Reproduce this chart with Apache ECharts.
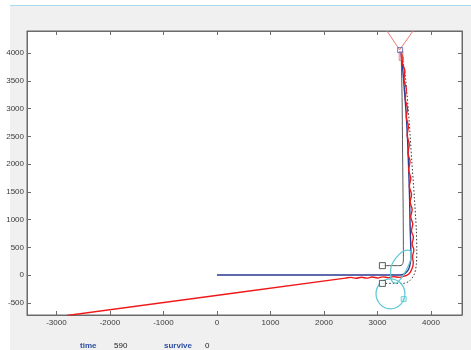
<!DOCTYPE html>
<html>
<head>
<meta charset="utf-8">
<script src="https://cdn.jsdelivr.net/npm/echarts@6/dist/echarts.min.js"></script>
<style>
  html, body { margin: 0; padding: 0; background: #ffffff; }
  #chart { width: 471px; height: 350px; }
</style>
</head>
<body>
<div id="chart"></div>
<script>
// Axis ranges and tick labels
const xRange = [-3550, 4580];
const yRange = [-720, 4400];
const xTicks = [-3000, -2000, -1000, 0, 1000, 2000, 3000, 4000];
const yTicks = [-500, 0, 500, 1000, 1500, 2000, 2500, 3000, 3500, 4000];

// Actual flown track (red)
const actualTrack = [
  [-2800, -729], [2400, -55], [2500, -42], [2600, -58], [2700, -40], [2800, -56],
  [2900, -36], [3000, -52], [3100, -32], [3200, -48], [3300, -28], [3400, -42],
  [3500, -20], [3580, 15], [3640, 100], [3670, 220], [3655, 330], [3680, 451],
  [3648, 560], [3672, 680], [3635, 800], [3660, 920], [3622, 1050], [3648, 1180],
  [3610, 1320], [3636, 1450], [3596, 1600], [3622, 1740], [3584, 1900], [3608, 2050],
  [3570, 2200], [3594, 2350], [3555, 2520], [3578, 2680], [3540, 2850], [3562, 3000],
  [3520, 3180], [3540, 3350], [3496, 3520], [3512, 3680], [3468, 3820], [3476, 3920],
  [3440, 4000]
];

// Reference route (blue)
const referenceRoute = [
  [0, 0], [3420, 0], [3510, 25], [3580, 100], [3615, 220], [3625, 350],
  [3610, 900], [3600, 1400], [3580, 2000], [3560, 2500], [3530, 3000],
  [3490, 3500], [3460, 3850], [3440, 4000]
];

// Inner guide path (gray, solid)
const innerGuide = [
  [3092, 170], [3420, 170], [3460, 185], [3480, 230], [3485, 320],
  [3480, 1200], [3470, 2200], [3460, 3200], [3445, 3900], [3440, 4000]
];

// Outer guide path (dotted)
const outerGuide = [
  [3092, -150], [3480, -150], [3600, -105], [3690, 20], [3727, 200], [3735, 450],
  [3727, 800], [3690, 1400], [3640, 2076], [3590, 2800], [3527, 3520], [3470, 3900], [3440, 4000]
];

// Start markers of the two guide paths
const guideStarts = [[3092, 170], [3092, -150]];

// Turning zones (cyan)
const turnCircle = [[3243, -339, 270]];
const turnLobe = [
  [3583, 451], [3490, 433], [3378, 343], [3284, 217], [3247, 90], [3247, -36],
  [3284, -126], [3340, -144], [3415, -90], [3508, 36], [3583, 181], [3621, 307],
  [3621, 415], [3583, 451]
];
const turnMarker = [[3490, -433]];

// Sensor cone at the vehicle position
const coneApex = [3415, 4060];
const coneEdges = [[3178, 4400], [3664, 4400]];
const vehicleBox = [[3424, 4056]];
const vehicleBody = [[3440, 3950]];

// Status readout
const statusTime = 590;
const statusSurvive = 0;

const chart = echarts.init(document.getElementById('chart'), null, { renderer: 'canvas' });

const labelFont = { fontSize: 8, color: '#3a3a3a', fontFamily: 'Liberation Sans, Arial, sans-serif' };
const frameLine = { show: true, onZero: false, lineStyle: { color: '#6b6b6b', width: 1 } };
const plainNumber = function (v) { return String(v); };

function coneSeries(end) {
  return {
    type: 'line', data: [coneApex, end], showSymbol: false, silent: true,
    lineStyle: { color: '#f27474', width: 1 }, z: 4
  };
}

chart.setOption({
  animation: false,
  backgroundColor: '#ffffff',
  graphic: [
    { type: 'rect', shape: { x: 10, y: 5, width: 461, height: 345 }, style: { fill: '#f0f0f0' }, z: -10 },
    { type: 'line', shape: { x1: 10, y1: 5.5, x2: 471, y2: 5.5 }, style: { stroke: '#a9daf0', lineWidth: 1 }, z: -9 },
    { type: 'text', left: 80, top: 342, style: { text: 'time', fontSize: 8, fontWeight: 'bold', fill: '#2d4da0', fontFamily: 'Liberation Sans, Arial, sans-serif' } },
    { type: 'text', left: 114, top: 342, style: { text: String(statusTime), fontSize: 8, fill: '#222', fontFamily: 'Liberation Sans, Arial, sans-serif' } },
    { type: 'text', left: 164, top: 342, style: { text: 'survive', fontSize: 8, fontWeight: 'bold', fill: '#2d4da0', fontFamily: 'Liberation Sans, Arial, sans-serif' } },
    { type: 'text', left: 205, top: 342, style: { text: String(statusSurvive), fontSize: 8, fill: '#222', fontFamily: 'Liberation Sans, Arial, sans-serif' } }
  ],
  grid: {
    left: 27, right: 9, top: 31, bottom: 35,
    show: true, backgroundColor: '#ffffff', borderColor: '#6b6b6b', borderWidth: 1
  },
  xAxis: [
    {
      type: 'value', min: xRange[0], max: xRange[1], position: 'bottom',
      axisLine: frameLine, splitLine: { show: false },
      axisTick: { show: true, inside: true, length: 4, customValues: xTicks, lineStyle: { color: '#6b6b6b' } },
      axisLabel: Object.assign({ show: true, margin: 4, customValues: xTicks, formatter: plainNumber }, labelFont)
    },
    {
      type: 'value', min: xRange[0], max: xRange[1], position: 'top',
      axisLine: frameLine, splitLine: { show: false },
      axisTick: { show: true, inside: true, length: 4, customValues: xTicks, lineStyle: { color: '#6b6b6b' } },
      axisLabel: { show: false }
    }
  ],
  yAxis: [
    {
      type: 'value', min: yRange[0], max: yRange[1], position: 'left',
      axisLine: frameLine, splitLine: { show: false },
      axisTick: { show: true, inside: true, length: 4, customValues: yTicks, lineStyle: { color: '#6b6b6b' } },
      axisLabel: Object.assign({ show: true, margin: 3, customValues: yTicks, formatter: plainNumber }, labelFont)
    },
    {
      type: 'value', min: yRange[0], max: yRange[1], position: 'right',
      axisLine: frameLine, splitLine: { show: false },
      axisTick: { show: true, inside: true, length: 4, customValues: yTicks, lineStyle: { color: '#6b6b6b' } },
      axisLabel: { show: false }
    }
  ],
  series: [
    {
      type: 'line', name: 'inner', data: innerGuide, showSymbol: false, smooth: 0.3,
      lineStyle: { color: '#5a5a5a', width: 1 }, z: 3
    },
    {
      type: 'line', name: 'outer', data: outerGuide, showSymbol: false, smooth: 0.3,
      lineStyle: { color: '#333333', width: 1, type: [1.5, 2] }, z: 3
    },
    {
      type: 'line', name: 'reference', data: referenceRoute, showSymbol: false, smooth: 0.3,
      lineStyle: { color: '#2b3a92', width: 1.4 }, z: 4
    },
    {
      type: 'line', name: 'actual', data: actualTrack, showSymbol: false, smooth: 0.35,
      lineStyle: { color: '#f01818', width: 1.4 }, z: 5
    },
    {
      type: 'custom', name: 'zone', data: turnCircle, z: 6,
      renderItem: function (params, api) {
        const c = api.coord([api.value(0), api.value(1)]);
        const s = api.size([api.value(2), api.value(2)]);
        return {
          type: 'ellipse',
          shape: { cx: c[0], cy: c[1], rx: s[0], ry: s[1] },
          style: { fill: 'none', stroke: '#5ec7d3', lineWidth: 1.2 }
        };
      }
    },
    {
      type: 'line', name: 'lobe', data: turnLobe, showSymbol: false, smooth: 0.5,
      lineStyle: { color: '#5ec7d3', width: 1.2 }, z: 6
    },
    {
      type: 'scatter', data: turnMarker, symbol: 'rect', symbolSize: 5,
      itemStyle: { color: 'rgba(94,199,211,0.25)', borderColor: '#5ec7d3', borderWidth: 1 }, z: 7
    },
    {
      type: 'scatter', data: guideStarts, symbol: 'rect', symbolSize: 6,
      itemStyle: { color: '#ffffff', borderColor: '#333333', borderWidth: 1 }, z: 7
    },
    coneSeries(coneEdges[0]),
    coneSeries(coneEdges[1]),
    {
      type: 'scatter', data: vehicleBody, symbol: 'rect', symbolSize: [4, 9],
      itemStyle: { color: 'rgba(240,120,120,0.55)', borderColor: 'rgba(224,48,48,0.7)', borderWidth: 0.6 }, z: 8
    },
    {
      type: 'scatter', data: vehicleBox, symbol: 'rect', symbolSize: 5,
      itemStyle: { color: 'rgba(255,255,255,0)', borderColor: '#4a5fb0', borderWidth: 1 }, z: 9
    }
  ]
});
</script>
</body>
</html>
